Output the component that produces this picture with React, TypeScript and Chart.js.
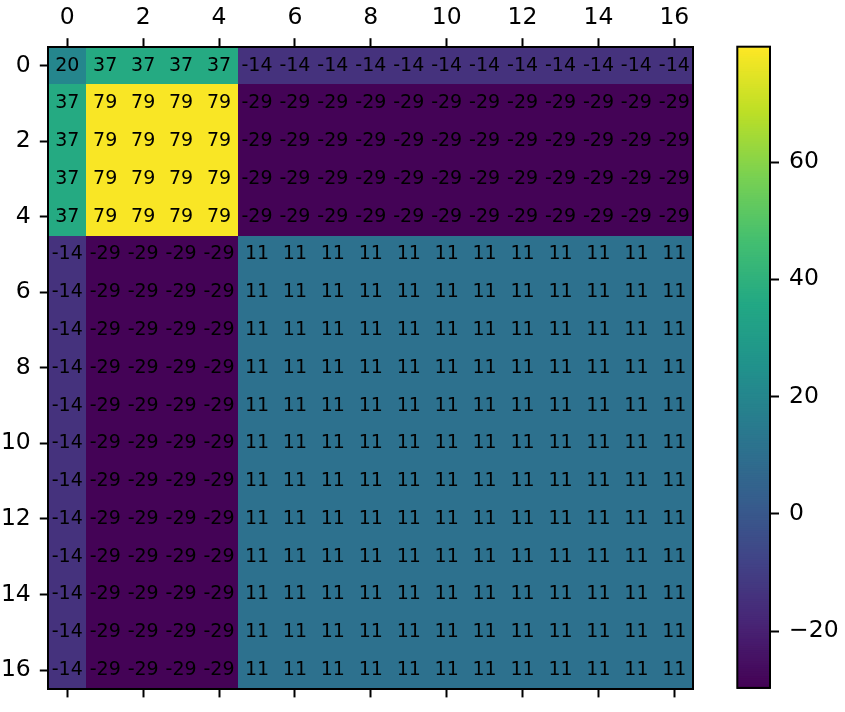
import React, { useEffect, useRef } from 'react';
import { Chart, registerables } from 'chart.js';

Chart.register(...registerables);

// ---- data ----
const colIndex = [0, 1, 2, 3, 4, 5, 6, 7, 8, 9, 10, 11, 12, 13, 14, 15, 16];
const xTickValues = [0, 2, 4, 6, 8, 10, 12, 14, 16];
const yTickValues = [0, 2, 4, 6, 8, 10, 12, 14, 16];
const colorbarTicks = [-20, 0, 20, 40, 60];

const rowFirst = [20, 37, 37, 37, 37, -14, -14, -14, -14, -14, -14, -14, -14, -14, -14, -14, -14];
const rowUpper = [37, 79, 79, 79, 79, -29, -29, -29, -29, -29, -29, -29, -29, -29, -29, -29, -29];
const rowLower = [-14, -29, -29, -29, -29, 11, 11, 11, 11, 11, 11, 11, 11, 11, 11, 11, 11];
const matrixRows = [
  rowFirst,
  rowUpper, rowUpper, rowUpper, rowUpper,
  rowLower, rowLower, rowLower, rowLower, rowLower, rowLower,
  rowLower, rowLower, rowLower, rowLower, rowLower, rowLower,
];
const colorMin = -29.7;
const colorMax = 79.7;

// ---- style ----
const VIRIDIS = [
  [68, 1, 84], [72, 36, 117], [65, 68, 135], [53, 95, 141], [42, 120, 142],
  [33, 145, 140], [34, 168, 132], [68, 191, 112], [122, 209, 81], [189, 223, 38], [253, 231, 37],
];
function viridis(t: number): string {
  const tt = Math.max(0, Math.min(1, t)) * (VIRIDIS.length - 1);
  const i = Math.min(VIRIDIS.length - 2, Math.floor(tt));
  const f = tt - i;
  const a = VIRIDIS[i], b = VIRIDIS[i + 1];
  const c = a.map((v, k) => Math.round(v + (b[k] - v) * f));
  return `rgb(${c[0]},${c[1]},${c[2]})`;
}
const FONT = 'DejaVu Sans';
const W = 845, H = 712;
const AREA = { left: 48.3, right: 693.3, top: 46.7, bottom: 692.3 };
const CB = { left: 737.3, right: 770 };
const tickFont = { family: FONT, size: 23.5 };

const cellsPlugin = {
  id: 'cells',
  beforeDatasetsDraw(chart: any) {
    const ctx = chart.ctx;
    const xs = chart.scales.x, ys = chart.scales.y;
    ctx.save();
    matrixRows.forEach((row, r) => {
      row.forEach((v, c) => {
        const x0 = Math.round(xs.getPixelForValue(colIndex[c] - 0.5));
        const x1 = Math.round(xs.getPixelForValue(colIndex[c] + 0.5));
        const y0 = Math.round(ys.getPixelForValue(r - 0.5));
        const y1 = Math.round(ys.getPixelForValue(r + 0.5));
        ctx.fillStyle = viridis((v - colorMin) / (colorMax - colorMin));
        ctx.fillRect(Math.min(x0, x1), Math.min(y0, y1), Math.abs(x1 - x0), Math.abs(y1 - y0));
      });
    });
    ctx.fillStyle = '#000';
    ctx.font = `19px "${FONT}"`;
    ctx.textAlign = 'center';
    ctx.textBaseline = 'middle';
    matrixRows.forEach((row, r) => {
      row.forEach((v, c) => {
        ctx.fillText(String(v), xs.getPixelForValue(colIndex[c]), ys.getPixelForValue(r));
      });
    });
    ctx.restore();
  },
};

const colorbarPlugin = {
  id: 'colorbar',
  beforeDatasetsDraw(chart: any) {
    const ctx = chart.ctx;
    const ys = chart.scales.y;
    const { left, right } = chart.chartArea;
    const N = 300;
    ctx.save();
    for (let i = 0; i < N; i++) {
      const v0 = colorMin + ((colorMax - colorMin) * i) / N;
      const v1 = colorMin + ((colorMax - colorMin) * (i + 1)) / N;
      const p0 = ys.getPixelForValue(v0);
      const p1 = ys.getPixelForValue(v1);
      ctx.fillStyle = viridis((i + 0.5) / N);
      ctx.fillRect(Math.round(left), p1, Math.round(right) - Math.round(left), p0 - p1 + 1);
    }
    ctx.restore();
  },
  afterDraw(chart: any) {
    const ctx = chart.ctx;
    const { left, right, top, bottom } = chart.chartArea;
    ctx.save();
    ctx.strokeStyle = '#000';
    ctx.lineWidth = 2;
    ctx.strokeRect(left, top, right - left, bottom - top);
    ctx.restore();
  },
};

const axisGrid = { drawOnChartArea: false, drawTicks: true, tickLength: 8.5, tickWidth: 2, tickColor: '#000' };
const axisBorder = { display: true, color: '#000', width: 2, z: 1 };

export default function App() {
  const mainRef = useRef<HTMLCanvasElement>(null);
  const cbRef = useRef<HTMLCanvasElement>(null);

  useEffect(() => {
    const main = new Chart(mainRef.current as HTMLCanvasElement, {
      type: 'scatter',
      data: { datasets: [{ data: [] }] },
      plugins: [cellsPlugin],
      options: {
        responsive: false,
        animation: false,
        devicePixelRatio: 1,
        layout: { padding: { left: 0, top: 0, right: W - AREA.right, bottom: H - AREA.bottom } },
        plugins: { legend: { display: false }, tooltip: { enabled: false } },
        scales: {
          x: {
            type: 'linear', position: 'top', min: -0.5, max: 16.5,
            afterBuildTicks: (s: any) => { s.ticks = xTickValues.map((v) => ({ value: v })); },
            afterFit: (s: any) => { s.height = AREA.top; },
            ticks: { font: tickFont, color: '#000', padding: 6.5, maxRotation: 0, autoSkip: false },
            grid: axisGrid, border: axisBorder,
          },
          x2: {
            type: 'linear', position: 'bottom', min: -0.5, max: 16.5,
            afterBuildTicks: (s: any) => { s.ticks = xTickValues.map((v) => ({ value: v })); },
            afterFit: (s: any) => { s.height = 0; },
            ticks: { display: false },
            grid: axisGrid, border: axisBorder,
          },
          y: {
            type: 'linear', position: 'left', reverse: true, min: -0.5, max: 16.5,
            afterBuildTicks: (s: any) => { s.ticks = yTickValues.map((v) => ({ value: v })); },
            afterFit: (s: any) => { s.width = AREA.left; },
            ticks: { font: tickFont, color: '#000', padding: 9, autoSkip: false },
            grid: axisGrid, border: axisBorder,
          },
          y2: {
            type: 'linear', position: 'right', min: -0.5, max: 16.5,
            afterFit: (s: any) => { s.width = 0; },
            ticks: { display: false },
            grid: { display: false, drawTicks: false },
            border: axisBorder,
          },
        },
      } as any,
    });

    const cb = new Chart(cbRef.current as HTMLCanvasElement, {
      type: 'scatter',
      data: { datasets: [{ data: [] }] },
      plugins: [colorbarPlugin],
      options: {
        responsive: false,
        animation: false,
        devicePixelRatio: 1,
        layout: { padding: { left: CB.left, top: AREA.top, right: 0, bottom: H - AREA.bottom } },
        plugins: { legend: { display: false }, tooltip: { enabled: false } },
        scales: {
          x: { type: 'linear', display: false, min: 0, max: 1 },
          y: {
            type: 'linear', position: 'right', min: colorMin, max: colorMax,
            afterBuildTicks: (s: any) => { s.ticks = colorbarTicks.map((v) => ({ value: v })); },
            afterFit: (s: any) => { s.width = W - CB.right; },
            ticks: {
              font: tickFont, color: '#000', padding: 10, autoSkip: false,
              callback: (v: any) => (v < 0 ? '\u2212' + Math.abs(v) : String(v)),
            },
            grid: { ...axisGrid, tickLength: 9 },
            border: { display: false },
          },
        },
      } as any,
    });

    return () => {
      main.destroy();
      cb.destroy();
    };
  }, []);

  return (
    <div style={{ position: 'fixed', left: 0, top: 0, width: W, height: H, background: '#fff' }}>
      <canvas ref={mainRef} width={W} height={H} style={{ position: 'absolute', left: 0, top: 0 }} />
      <canvas ref={cbRef} width={W} height={H} style={{ position: 'absolute', left: 0, top: 0 }} />
    </div>
  );
}
